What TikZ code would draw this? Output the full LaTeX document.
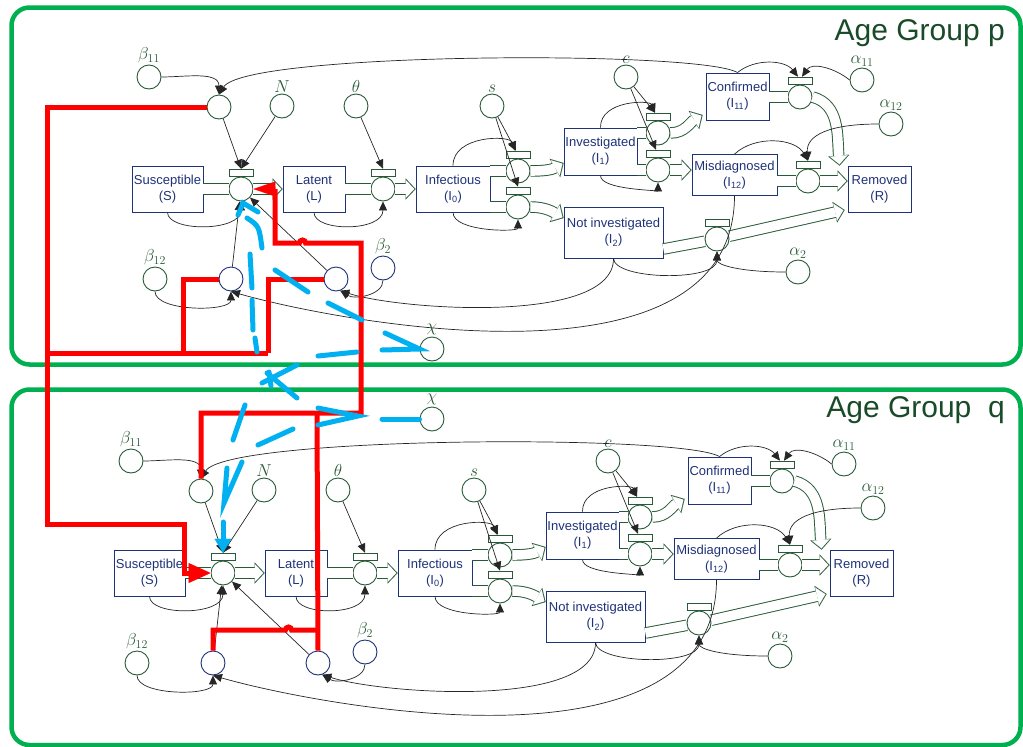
\documentclass[tikz,border=0pt]{standalone}
\usepackage{fontspec}
\setmainfont{Liberation Sans}
\usetikzlibrary{arrows.meta}

\definecolor{sdgreen}{RGB}{40,90,55}
\definecolor{sdnavy}{RGB}{30,50,120}
\definecolor{framegreen}{RGB}{0,176,80}
\definecolor{titlegreen}{RGB}{25,75,40}
\definecolor{markred}{RGB}{255,0,0}
\definecolor{markblue}{RGB}{0,176,240}

\tikzset{
  stock/.style={draw=sdnavy, line width=0.8pt, fill=white, text=sdnavy, align=center,
    font=\fontsize{13}{16}\selectfont, minimum height=46pt, inner sep=1pt},
  aux/.style={circle, draw=sdgreen, line width=0.9pt, fill=white, minimum size=24pt, inner sep=0pt},
  auxnavy/.style={aux, draw=sdnavy},
  lab/.style={text=sdgreen, font=\fontsize{17}{17}\selectfont, inner sep=1pt},
  valvebar/.style={rectangle, draw=sdgreen, line width=0.8pt, fill=white,
    minimum width=24pt, minimum height=7pt, inner sep=0pt},
  info/.style={draw=black!85, line width=0.7pt, -{Triangle[length=9pt,width=8pt]}},
  pipe/.style={draw=sdgreen, line width=11.5pt, postaction={draw=white, line width=9.6pt}},
  flow/.style={draw=sdgreen, line width=11.5pt, -{Triangle[length=10pt,width=21pt,line width=0.01pt]},
    postaction={draw=white, line width=9.6pt,
      -{Triangle[length=8.4pt,width=17.6pt,line width=0.01pt]}, shorten >=1.3pt}},
  panelframe/.style={draw=framegreen, line width=4.5pt, rounded corners=18pt},
  grouptitle/.style={text=titlegreen, font=\fontsize{30}{30}\selectfont, inner sep=0pt},
  hlred/.style={draw=markred, line width=5pt},
  hlblue/.style={draw=markblue, line width=5pt, line cap=round},
}

% one age group: #1 shift, #2 name prefix
\newcommand{\sdpanel}[2]{%
\begin{scope}[shift={#1}, name prefix=#2-]
  % stocks
  \node[stock, minimum width=71pt] (S) at (167.5,-189) {Susceptible\\(S)};
  \node[stock, minimum width=62pt] (L) at (314,-189) {Latent\\(L)};
  \node[stock, minimum width=74pt] (I0) at (453,-189) {Infectious\\(I\textsubscript{0})};
  \node[stock, minimum width=73pt, minimum height=47pt] (I1) at (600.5,-151.5) {Investigated\\(I\textsubscript{1})};
  \node[stock, minimum width=99pt, minimum height=51pt] (I2) at (613.5,-232.5) {Not investigated\\(I\textsubscript{2})};
  \node[stock, minimum width=63pt, minimum height=47pt] (I11) at (737.5,-96.5) {Confirmed\\(I\textsubscript{11})};
  \node[stock, minimum width=85pt, minimum height=41pt] (I12) at (734.5,-175) {Misdiagnosed\\(I\textsubscript{12})};
  \node[stock, minimum width=63pt] (R) at (879.5,-189) {Removed\\(R)};
  % valves
  \node[aux] (v1) at (241,-189) {};
  \node[aux] (v2) at (383,-189) {};
  \node[aux] (v3a) at (518,-171) {};
  \node[aux] (v3b) at (518,-207) {};
  \node[aux] (v5a) at (658,-133) {};
  \node[aux] (v5b) at (658,-170) {};
  \node[aux] (v6) at (800,-97) {};
  \node[aux] (v7) at (808,-181) {};
  \node[aux] (v4) at (717,-239) {};
  \node[valvebar, anchor=south] (v1bar) at (v1.north) {};
  \node[valvebar, anchor=south] (v2bar) at (v2.north) {};
  \node[valvebar, anchor=south] (v3abar) at (v3a.north) {};
  \node[valvebar, anchor=south] (v3bbar) at (v3b.north) {};
  \node[valvebar, anchor=south] (v5abar) at (v5a.north) {};
  \node[valvebar, anchor=south] (v5bbar) at (v5b.north) {};
  \node[valvebar, anchor=south] (v6bar) at (v6.north) {};
  \node[valvebar, anchor=south] (v7bar) at (v7.north) {};
  \node[valvebar, anchor=south] (v4bar) at (v4.north) {};
  % auxiliaries
  \node[aux, label={[lab]above:$\beta_{11}$}] (b11) at (149,-77) {};
  \node[aux] (A) at (219,-107) {};
  \node[aux, label={[lab]above:$N$}] (N) at (282,-106) {};
  \node[aux, label={[lab]above:$\theta$}] (th) at (356,-106) {};
  \node[aux, label={[lab]above:$s$}] (s) at (492,-106) {};
  \node[aux, label={[lab]above:$c$}] (c) at (626,-77) {};
  \node[aux, label={[lab]above:$\alpha_{11}$}] (a11) at (862,-80) {};
  \node[aux, label={[lab]above:$\alpha_{12}$}] (a12) at (891,-124) {};
  \node[aux, label={[lab]above:$\beta_{12}$}] (b12) at (155,-279) {};
  \node[auxnavy] (B) at (231,-279) {};
  \node[auxnavy] (C) at (336,-279) {};
  \node[auxnavy, label={[lab]above:$\beta_2$}] (b2) at (383,-268) {};
  \node[aux, label={[lab]above:$\alpha_2$}] (a2) at (798,-272) {};
  % flows
  \draw[pipe] (S) -- (v1);
  \draw[flow] (v1) -- (L);
  \draw[pipe] (L) -- (v2);
  \draw[flow] (v2) -- (I0);
  \draw[pipe] (I0.east |- v3a) -- (v3a);
  \draw[pipe] (I0.east |- v3b) -- (v3b);
  \draw[flow] (v3a.east) to[out=0,in=-150] ([yshift=-11.5pt]I1.west);
  \draw[flow] (v3b.east) to[out=0,in=150] ([yshift=14.5pt]I2.west);
  \draw[pipe] (I1.east |- v5a) -- (v5a);
  \draw[pipe] (I1.east |- v5b) -- (v5b);
  \draw[flow] (v5a.east) to[out=0,in=-150] ([xshift=-3pt,yshift=-18.5pt]I11.west);
  \draw[flow] (v5b) -- (v5b -| I12.west);
  \draw[pipe] (I11.east |- v6) -- (v6);
  \draw[flow] (v6.east) to[out=-15,in=95] ([xshift=-8pt]R.north west);
  \draw[pipe] (I12.east |- v7) -- (v7);
  \draw[flow] (v7) -- (v7 -| R.west);
  \draw[pipe] ([yshift=-16.5pt]I2.east) -- (v4);
  \draw[flow] (v4) -- ([xshift=-3pt,yshift=-21pt]R.west);
  % information links
  \draw[info] (b11.east) to[out=0,in=90] (A.north);
  \draw[info] (I11.north) .. controls (700,-50) and (245,-52) .. (A.north);
  \draw[info] (I11.north) .. controls (755,-58) and (785,-60) .. ([xshift=-2pt]v6bar.north);
  \draw[info] (a11.west) .. controls (835,-68) and (812,-62) .. ([xshift=2pt]v6bar.north);
  \draw[info] (A) -- (v1bar.north);
  \draw[info] (N) -- (v1bar.north);
  \draw[info] (S.south) .. controls (167.5,-232) and (241,-232) .. (v1.south);
  \draw[info] (B) -- (v1);
  \draw[info] (C) -- (v1);
  \draw[info] (b12.south) .. controls (155,-312) and (231,-312) .. (B.south);
  \draw[info] (I12.south) .. controls (734,-400) and (330,-320) .. (B.south);
  \draw[info] (I2.south) .. controls (614,-325) and (400,-310) .. (C.-70);
  \draw[info] (b2.south) .. controls (383,-295) and (355,-300) .. (C.-70);
  \draw[info] (I2.south) .. controls (614,-280) and (717,-282) .. (v4.south);
  \draw[info] (a2.west) .. controls (740,-272) and (717,-265) .. (v4.south);
  \draw[info] (L.south) .. controls (314,-232) and (383,-232) .. (v2.south);
  \draw[info] (th) -- (v2bar.north);
  \draw[info] (I0.north) .. controls (453,-135) and (510,-135) .. ([xshift=-3pt]v3abar.north);
  \draw[info] (s) -- ([xshift=-2pt]v3abar.north);
  \draw[info] (s) -- (v3bbar.north);
  \draw[info] (I0.south) .. controls (453,-232) and (518,-232) .. (v3b.south);
  \draw[info] (I1.north) .. controls (600,-100) and (650,-100) .. ([xshift=-3pt]v5abar.north);
  \draw[info] (c) -- ([xshift=-3pt]v5abar.north);
  \draw[info] (c) -- ([xshift=-2pt]v5bbar.north);
  \draw[info] (I1.south) .. controls (600,-190) and (658,-190) .. (v5b.south);
  \draw[info] (I12.north) .. controls (755,-135) and (795,-138) .. (v7bar.north);
  \draw[info] (a12.west) .. controls (830,-124) and (806,-135) .. (v7bar.north);
\end{scope}}

\begin{document}
\begin{tikzpicture}[x=1pt, y=1pt]
  \useasboundingbox (0,0) rectangle (1023,-747);
  \draw[panelframe] (11.5,-7.5) rectangle (1020.5,-364.5);
  \draw[panelframe] (11.5,-389.5) rectangle (1020.5,-745);
  \node[grouptitle, anchor=base east] (ttlp) at (1005,-40) {Age Group p};
  \node[grouptitle, anchor=base east] (ttlq) at (1005,-417) {Age Group\ \ q};

  \sdpanel{(0,0)}{p}
  \sdpanel{(-18,-384)}{q}

  \node[aux, label={[lab]above:$\chi$}] (chip) at (432,-349) {};
  \node[aux, label={[lab]above:$\chi$}] (chiq) at (432,-419) {};

  % red marks
  \draw[hlred, -{Triangle[length=22pt,width=20pt,line width=0.01pt]}] (p-A.west) -- (47,-107) -- (47,-524)
    -- (184,-524) -- (184,-573) -- (q-v1.west);
  \draw[hlred] (47,-353) -- (268,-353);
  \draw[hlred] (183,-353) |- (p-B.west);
  \draw[hlred] (268,-353) |- (p-C.west);
  \draw[hlred, -{Triangle[length=22pt,width=15pt,line width=0.01pt]}] (q-A.north) -- (201,-413) -- (361,-413)
    -- (361,-243) -- (305.5,-243) arc[start angle=0, end angle=180, radius=3] -- (275,-243)
    -- (275,-189) -- (p-v1.east);
  \draw[hlred] (317,-413) -- (q-C.north);
  \draw[hlred] (317,-630) -- (291.5,-630) arc[start angle=0, end angle=180, radius=3]
    -- (213,-630) -- (q-B.north);

  % blue marks
  \draw[hlblue] (238,-215) -- (243,-203) -- (258,-212);
  \draw[hlblue] (247,-218) .. controls (259,-226) .. (262,-248);
  \draw[hlblue] (250,-254) -- (252,-288);
  \draw[hlblue] (252,-300) -- (253,-330);
  \draw[hlblue] (255,-338) -- (257,-352);
  \draw[hlblue] (275,-270) -- (308,-292);
  \draw[hlblue] (328,-303) -- (362,-320);
  \draw[hlblue] (385,-333) -- (chip.west) -- (382,-350);
  \draw[hlblue] (318,-356) -- (357,-352);
  \draw[hlblue] (297,-365) -- (262,-383);
  \draw[hlblue] (267,-373) -- (297,-398);
  \draw[hlblue] (269,-372) -- (271,-386);
  \draw[hlblue] (318,-408) -- (358,-416) -- (318,-425);
  \draw[hlblue] (382,-419) -- (chiq.west);
  \draw[hlblue] (245,-405) -- (233,-440);
  \draw[hlblue] (293,-429) -- (258,-445);
  \draw[hlblue] (242,-462) -- (224,-503) -- (227,-468);
  \draw[hlblue, -{Triangle[length=14pt,width=17pt,line width=0.01pt]}] (223,-522) -- (q-v1bar.north);
\end{tikzpicture}
\end{document}
